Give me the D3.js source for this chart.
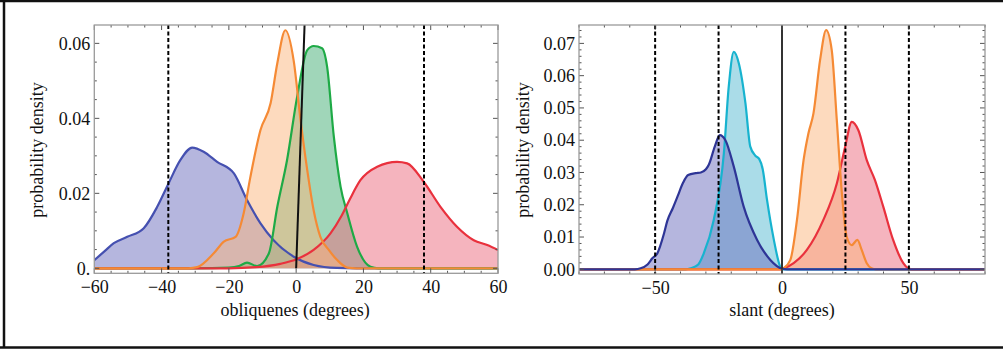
<!DOCTYPE html>
<html><head><meta charset="utf-8">
<script src="https://cdn.jsdelivr.net/npm/d3@7"></script>
<style>
html,body{margin:0;padding:0;background:#fff;}
svg{display:block;}
text{font-family:"Liberation Serif","Times New Roman",serif;fill:#111;}
</style></head><body>
<svg id="c" width="1003" height="349"></svg>
<script>
// ---------- DATA ----------
// Left panel: obliqueness (degrees) vs probability density
const leftBlue = [[-60,0.0022],[-57,0.0045],[-54.2,0.0067],[-50.2,0.0084],[-45.3,0.0107],[-41.3,0.0164],[-37.9,0.0227],[-34.4,0.0289],[-30.9,0.0322],[-27.5,0.0311],[-23.5,0.0284],[-18.5,0.0253],[-14.6,0.0182],[-10.6,0.012],[-6.7,0.0075],[-0.7,0.0031],[5.2,0.0009],[12,0.0001],[18,0],[60,0]];
const leftOrange = [[-60,0],[-32,0],[-29.4,0.0003],[-24.5,0.004],[-21.5,0.0071],[-18,0.0084],[-15.6,0.0147],[-13.6,0.0244],[-10.6,0.0369],[-7.6,0.044],[-5.6,0.0547],[-3.2,0.0635],[-0.7,0.0552],[1.3,0.0396],[3.3,0.0262],[5.2,0.0155],[7.2,0.0084],[9.7,0.0049],[12.2,0.0022],[15.2,0.0002],[18,0],[60,0]];
const leftGreen = [[-60,0],[-30,0],[-20,0.0002],[-17,0.0006],[-14.6,0.0015],[-11.6,0.0006],[-8.1,0.004],[-5.6,0.0164],[-2.7,0.0289],[0.3,0.0458],[3.3,0.0582],[5.2,0.0593],[7.7,0.0587],[9.2,0.0538],[11.2,0.0351],[13.2,0.0218],[15.2,0.0147],[18.1,0.0058],[22.1,0.0004],[24.5,0],[60,0]];
const leftRed = [[-60,0],[-20,0],[-12,0.0003],[-4.7,0.0012],[0.3,0.0025],[5.2,0.0049],[10.2,0.0093],[13.5,0.014],[16,0.0185],[19.1,0.0235],[24.1,0.0271],[30,0.0284],[33,0.028],[37.9,0.0231],[42.9,0.0164],[47.8,0.0111],[52.8,0.0075],[56.8,0.0062],[60,0.0049]];
const leftDashed = [-38, 38];
const leftSolid = [[0,0],[2.5,0.0649]];
const leftXTicks = [-60,-40,-20,0,20,40,60];
const leftYTicks = [0,0.02,0.04,0.06];
const leftYLabels = ["0.","0.02","0.04","0.06"];

// Right panel: slant (degrees) vs probability density
const rightBlue = [[-80,0],[-58,0],[-55.7,0.0003],[-53,0.0015],[-51.1,0.0034],[-49.1,0.005],[-46.5,0.0111],[-45.2,0.0150],[-43,0.0190],[-41.2,0.0225],[-39,0.0268],[-37,0.0292],[-34,0.0298],[-32,0.0300],[-30,0.0310],[-28.8,0.0325],[-26.5,0.0380],[-24.5,0.0416],[-22.3,0.04],[-19,0.0318],[-15.1,0.0194],[-9.8,0.0091],[-4.6,0.0029],[0,0.0002],[2,0],[80,0]];
const rightCyan = [[-80,0],[-38,0],[-36,0.0003],[-33,0.0015],[-30.8,0.005],[-26.9,0.0153],[-22.9,0.036],[-21,0.0565],[-19,0.0674],[-17,0.0638],[-14.4,0.0514],[-12.5,0.038],[-10.5,0.0352],[-9,0.0342],[-7.6,0.0310],[-5.9,0.0215],[-3.3,0.0095],[-0.7,0.0008],[0,0],[80,0]];
const rightOrange = [[-80,0],[0,0],[0.6,0.0003],[3.3,0.0029],[5.9,0.0153],[8.5,0.0338],[10.4,0.0421],[12.4,0.0483],[15,0.0648],[17.4,0.0741],[19.6,0.0679],[21.6,0.0462],[23.6,0.0235],[25.5,0.0101],[27.5,0.0075],[29.7,0.0091],[31.4,0.006],[33.4,0.0019],[35.3,0.0003],[37,0],[80,0]];
const rightRed = [[-80,0],[0,0],[0.6,0.0002],[4.6,0.0019],[9.8,0.006],[16.3,0.0153],[21.6,0.0266],[24.9,0.038],[27.5,0.0457],[30.1,0.0431],[33.4,0.0338],[36.6,0.0277],[39.9,0.0194],[43.8,0.0091],[47.8,0.0019],[49.7,0.0003],[51,0],[80,0]];
const rightDashed = [-50,-25,25,50];
const rightSolid = [[0,-0.0015],[0,0.0757]];
const rightXTicks = [-50,0,50];
const rightYTicks = [0,0.01,0.02,0.03,0.04,0.05,0.06,0.07];
const rightYLabels = ["0.00","0.01","0.02","0.03","0.04","0.05","0.06","0.07"];

// ---------- STYLES ----------
const C = {
  blueL:"#4550b0", blueF:"#6b6dbd",
  navyL:"#2e3596",
  orangeL:"#f58a35", orangeF:"#fbb57d",
  greenL:"#1eaa46", greenF:"#41ad73",
  redL:"#e9313d", redF:"#eb697d",
  cyanL:"#17b3cf", cyanF:"#55b9d1"
};

const svg = d3.select("#c");

// outer border (left, top, bottom)
svg.append("line").attr("x1",4).attr("x2",4).attr("y1",1).attr("y2",348).attr("stroke","#111").attr("stroke-width",2.5);
svg.append("line").attr("x1",0).attr("x2",1003).attr("y1",1).attr("y2",1).attr("stroke","#111").attr("stroke-width",2.5);
svg.append("line").attr("x1",0).attr("x2",1003).attr("y1",347.5).attr("y2",347.5).attr("stroke","#111").attr("stroke-width",2.5);

function panel(o){
  const x = d3.scaleLinear().domain(o.xd).range(o.xr);
  const y = d3.scaleLinear().domain(o.yd).range(o.yr);
  const g = svg.append("g");
  const [x0,x1] = o.xr, [y0,y1] = o.yr; // y0 bottom, y1 top
  const area = d3.area().x(d=>x(d[0])).y0(y(0)).y1(d=>y(d[1])).curve(d3.curveMonotoneX);
  const line = d3.line().x(d=>x(d[0])).y(d=>y(d[1])).curve(d3.curveMonotoneX);
  const clip = "clip"+o.id;
  g.append("clipPath").attr("id",clip).append("rect").attr("x",x0).attr("y",y1).attr("width",x1-x0).attr("height",y0-y1);
  const pg = g.append("g").attr("clip-path",`url(#${clip})`);
  o.series.forEach(s=>{
    pg.append("path").datum(s.data).attr("d",area).attr("fill",s.fill).attr("fill-opacity",0.5);
  });
  o.series.forEach(s=>{
    pg.append("path").datum(s.data).attr("d",line).attr("fill","none").attr("stroke",s.line).attr("stroke-width",2.2).attr("stroke-linejoin","round");
  });
  o.dashed.forEach(v=>{
    pg.append("line").attr("x1",x(v)).attr("x2",x(v)).attr("y1",y1).attr("y2",y0)
      .attr("stroke","#000").attr("stroke-width",2).attr("stroke-dasharray","4,2.5");
  });
  pg.append("path").datum(o.solid).attr("d",d3.line().x(d=>x(d[0])).y(d=>y(d[1])))
    .attr("stroke",o.solidColor).attr("stroke-width",2).attr("fill","none");

  // frame ticks
  const tickG = g.append("g").attr("stroke","#555").attr("stroke-width",1);
  const xMinor = d3.range(o.xd[0], o.xd[1]+1e-9, o.xMinor);
  xMinor.forEach(v=>{
    const major = o.xTicks.some(t=>Math.abs(t-v)<1e-9);
    const L = major?5:2.5;
    tickG.append("line").attr("x1",x(v)).attr("x2",x(v)).attr("y1",y0).attr("y2",y0-L);
    tickG.append("line").attr("x1",x(v)).attr("x2",x(v)).attr("y1",y1).attr("y2",y1+L);
  });
  const yMinor = d3.range(0, o.yd[1], o.yMinor);
  yMinor.forEach(v=>{
    const major = o.yTicks.some(t=>Math.abs(t-v)<1e-9);
    const L = major?5:2.5;
    tickG.append("line").attr("x1",x0).attr("x2",x0+L).attr("y1",y(v)).attr("y2",y(v));
    tickG.append("line").attr("x1",x1).attr("x2",x1-L).attr("y1",y(v)).attr("y2",y(v));
  });
  // frame
  g.append("rect").attr("x",x0).attr("y",y1).attr("width",x1-x0).attr("height",y0-y1)
    .attr("fill","none").attr("stroke","#9a9a9a").attr("stroke-width",1.3);

  // axes labels via d3 axes (no domain/ticks lines, text only)
  const ax = d3.axisBottom(x).tickValues(o.xTicks).tickSize(0).tickPadding(0)
    .tickFormat(d=>d<0?"\u2212"+Math.abs(d):String(d));
  const axG = g.append("g").attr("transform",`translate(0,${y0+20})`).call(ax);
  axG.select(".domain").remove();
  axG.selectAll("text").attr("font-size",18).attr("dy",0).attr("fill","#111").style("font-family",'"Liberation Serif",serif');
  const ay = d3.axisLeft(y).tickValues(o.yTicks).tickSize(0).tickPadding(0)
    .tickFormat((d,i)=>o.yLabels[i]);
  const ayG = g.append("g").attr("transform",`translate(${x0-4},0)`).call(ay);
  ayG.select(".domain").remove();
  ayG.selectAll("text").attr("font-size",18).attr("fill","#111").style("font-family",'"Liberation Serif",serif');

  g.append("text").attr("x",(x0+x1)/2 + o.xtDx).attr("y",316).attr("text-anchor","middle")
    .attr("font-size",18).text(o.xTitle);
  g.append("text").attr("transform",`translate(${o.ytX},150) rotate(-90)`).attr("text-anchor","middle")
    .attr("font-size",18).text("probability density");
}

panel({id:"L", xd:[-60,60], xr:[94.3,498], yd:[-0.00133,0.0649], yr:[273.3,25],
  series:[
    {data:leftBlue, line:C.blueL, fill:C.blueF},
    {data:leftGreen, line:C.greenL, fill:C.greenF},
    {data:leftRed, line:C.redL, fill:C.redF},
    {data:leftOrange, line:C.orangeL, fill:C.orangeF}
  ],
  dashed:leftDashed, solid:leftSolid, solidColor:"#111",
  xTicks:leftXTicks, xMinor:5, yTicks:leftYTicks, yLabels:leftYLabels, yMinor:0.005,
  xTitle:"obliquenes (degrees)", xtDx:-1, ytX:43});

panel({id:"R", xd:[-80,80], xr:[579,985], yd:[-0.00146,0.0757], yr:[274,25],
  series:[
    {data:rightCyan, line:C.cyanL, fill:C.cyanF},
    {data:rightRed, line:C.redL, fill:C.redF},
    {data:rightOrange, line:C.orangeL, fill:C.orangeF},
    {data:rightBlue, line:C.navyL, fill:C.blueF}
  ],
  dashed:rightDashed, solid:rightSolid, solidColor:"#333",
  xTicks:rightXTicks, xMinor:10, yTicks:rightYTicks, yLabels:rightYLabels, yMinor:0.002,
  xTitle:"slant (degrees)", xtDx:0, ytX:529});
</script>
</body></html>
